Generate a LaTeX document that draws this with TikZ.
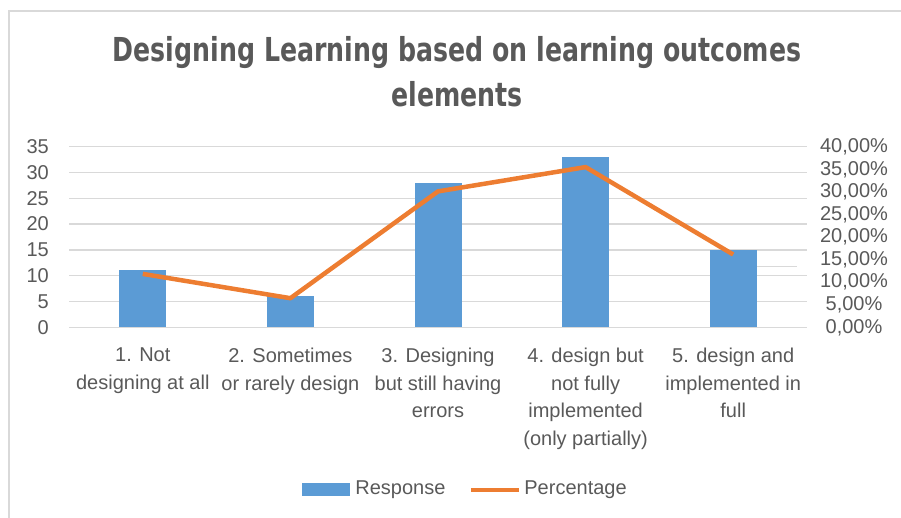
\documentclass[tikz,border=0pt]{standalone}
\usepackage{fontspec}
\setmainfont{Liberation Sans}
\newfontfamily\titlefont{DejaVu Sans}
\usepackage{tikz}
\usetikzlibrary{positioning}

\definecolor{barblue}{HTML}{5B9BD5}
\definecolor{lineorange}{HTML}{ED7D31}
\definecolor{gridgray}{HTML}{D9D9D9}
\definecolor{textgray}{HTML}{595959}

\begin{document}
\begin{tikzpicture}[x=1pt, y=-1pt]
        \tikzstyle{every node}=[text=textgray, inner sep=0pt, font=\fontsize{20}{27.5}\selectfont]
        \tikzstyle{grid}=[draw=gridgray, line width=1.5pt]
        \tikzstyle{bar}=[fill=barblue, minimum width=47pt, anchor=south]
        \tikzstyle{pct}=[draw=lineorange, line width=4.5pt, line join=round]
        \tikzstyle{cat}=[align=center, anchor=north]

        \useasboundingbox (0,0) rectangle (901,518);
        \draw[grid] (9,518) -- (9,11) -- (901,11);

        % title
        \node (title) at (457,72) [align=center, font=\titlefont\bfseries\fontsize{33}{45}\selectfont]
            {\scalebox{0.765}[1]{Designing Learning based on learning outcomes}\\ \scalebox{0.765}[1]{elements}};

        % grid
        \draw[grid] (69,327.3) -- (807,327.3);
        \draw[grid] (69,301.5) -- (807,301.5);
        \draw[grid] (69,275.7) -- (807,275.7);
        \draw[grid] (69,249.9) -- (807,249.9);
        \draw[grid] (69,224.1) -- (807,224.1);
        \draw[grid] (69,198.3) -- (807,198.3);
        \draw[grid] (69,172.5) -- (807,172.5);
        \draw[grid] (69,146.7) -- (807,146.7);
        \draw[draw=gridgray, line width=0.8pt] (746,266) -- (797,266);

        % left axis
        \node (y0)  [anchor=east] at (49,327.3) {0};
        \node (y5)  [anchor=east] at (49,301.5) {5};
        \node (y10) [anchor=east] at (49,275.7) {10};
        \node (y15) [anchor=east] at (49,249.9) {15};
        \node (y20) [anchor=east] at (49,224.1) {20};
        \node (y25) [anchor=east] at (49,198.3) {25};
        \node (y30) [anchor=east] at (49,172.5) {30};
        \node (y35) [anchor=east] at (49,146.7) {35};

        % right axis
        \node (r0)  at (854,327.3) {0,00\%};
        \node (r5)  at (854,304.7) {5,00\%};
        \node (r10) at (854,282.1) {10,00\%};
        \node (r15) at (854,259.6) {15,00\%};
        \node (r20) at (854,237.0) {20,00\%};
        \node (r25) at (854,214.4) {25,00\%};
        \node (r30) at (854,191.9) {30,00\%};
        \node (r35) at (854,169.3) {35,00\%};
        \node (r40) at (854,146.7) {40,00\%};

        % bars
        \node (b1) [bar, minimum height=56.8pt]  at (142.8,327.3) {};
        \node (b2) [bar, minimum height=31.0pt]  at (290.4,327.3) {};
        \node (b3) [bar, minimum height=144.5pt] at (438.0,327.3) {};
        \node (b4) [bar, minimum height=170.3pt] at (585.6,327.3) {};
        \node (b5) [bar, minimum height=77.4pt]  at (733.2,327.3) {};

        % percentage
        \coordinate (p1) at (142.8,273.9);
        \coordinate (p2) at (290.4,298.2);
        \coordinate (p3) at (438.0,191.4);
        \coordinate (p4) at (585.6,167.1);
        \coordinate (p5) at (733.2,254.5);
        \draw[pct] (p1) -- (p2) -- (p3) -- (p4) -- (p5);

        % categories
        \node (c1) [cat] at (142.8,348) {1. Not\\designing at all};
        \node (c2) [cat] at (290.4,348) {2. Sometimes\\or rarely design};
        \node (c3) [cat] at (438.0,348) {3. Designing\\but still having\\errors};
        \node (c4) [cat] at (585.6,348) {4. design but\\not fully\\implemented\\(only partially)};
        \node (c5) [cat] at (733.2,348) {5. design and\\implemented in\\full};

        % legend
        \node (legbar)  [fill=barblue, minimum width=48pt, minimum height=12.4pt,
                         label={[label distance=5pt]0:Response}] at (326,489.5) {};
        \node (legline) [minimum width=48pt, minimum height=5pt,
                         label={[label distance=5pt]0:Percentage}] at (495,490) {};
        \draw[pct] (legline.west) -- (legline.east);

    \end{tikzpicture}
\end{document}
